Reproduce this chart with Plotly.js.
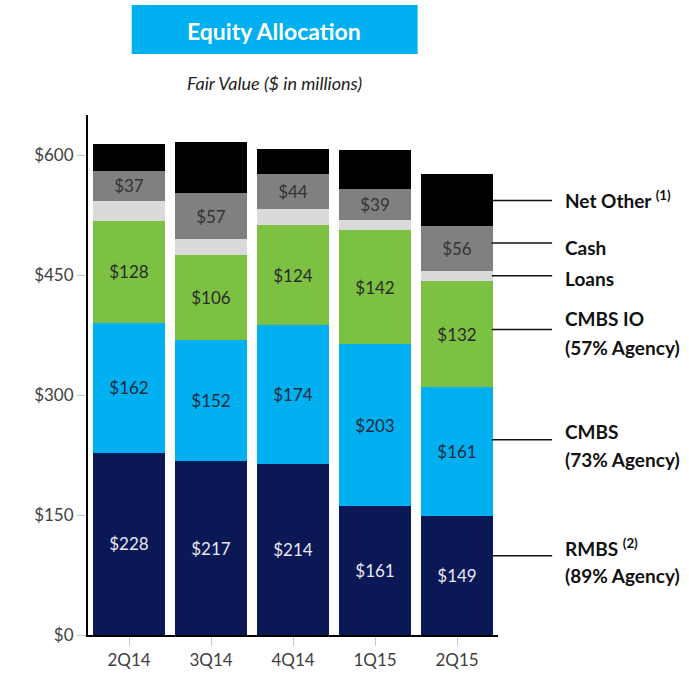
<!DOCTYPE html>
<html>
<head>
<meta charset="utf-8">
<script src="https://cdn.plot.ly/plotly-3.0.1.min.js"></script>
<style>html,body{margin:0;padding:0;background:#fff;}#chart{width:689px;height:685px;}</style>
</head>
<body>
<div id="chart"></div>
<script>
const categories = ['2Q14', '3Q14', '4Q14', '1Q15', '2Q15'];
const rmbs = [228, 217, 214, 161, 149];
const cmbs = [162, 152, 174, 203, 161];
const cmbsIO = [128, 106, 124, 142, 132];
const loans = [25, 20, 20, 13, 13];
const cash = [37, 57, 44, 39, 56];
const netOther = [34, 64, 32, 48, 65];

const seriesNames = ['RMBS', 'CMBS', 'CMBS IO', 'Loans', 'Cash', 'Net Other'];
const labelLines = [
  ['RMBS <sup>(2)</sup>', '(89% Agency)'],
  ['CMBS', '(73% Agency)'],
  ['CMBS IO', '(57% Agency)'],
  ['Loans'],
  ['Cash'],
  ['Net Other <sup>(1)</sup>']
];
const labelY = [[110, 75], [254, 219], [396, 360], [446], [485], [544]];
const lineY = [99, 244, 382, 449, 490, 543];

const FONT = 'Lato, "Open Sans", sans-serif';
const colors = ['#0a1855', '#00b0f0', '#7dc142', '#dadada', '#808080', '#000000'];
const textColors = ['#e8e8f0', '#1f2a3a', '#2b2b2b', '#333333', '#333333', '#ffffff'];
const showText = [true, true, true, false, true, false];
const data = [rmbs, cmbs, cmbsIO, loans, cash, netOther];

const traces = data.map((vals, i) => ({
  type: 'bar',
  name: seriesNames[i],
  x: categories,
  y: vals,
  text: vals.map(v => '$' + v),
  texttemplate: '%{text}',
  textposition: showText[i] ? 'inside' : 'none',
  insidetextanchor: 'middle',
  textangle: 0,
  constraintext: 'none',
  insidetextfont: {family: FONT, size: 17, color: textColors[i]},
  marker: {color: colors[i], line: {width: 0}},
  hoverinfo: 'x+y+name'
}));

const annotations = [
  {xref: 'paper', yref: 'paper', x: 0.4537, y: 1.162, text: '<b>Equity Allocation</b>', showarrow: false,
   font: {family: FONT, size: 23, color: '#ffffff'}, xanchor: 'center', yanchor: 'middle'},
  {xref: 'paper', yref: 'paper', x: 0.4537, y: 1.0615, text: '<i>Fair Value ($ in millions)</i>', showarrow: false,
   font: {family: FONT, size: 18, color: '#222222'}, xanchor: 'center', yanchor: 'middle'}
];
const shapes = [
  {type: 'rect', xref: 'paper', yref: 'paper', x0: 0.1066, x1: 0.804, y0: 1.1173, y1: 1.2115,
   fillcolor: '#00b0f0', line: {width: 0}, layer: 'below'}
];
labelLines.forEach((lines, i) => {
  lines.forEach((ln, j) => {
    annotations.push({xref: 'paper', yref: 'y', x: 1.158, y: labelY[i][j], text: '<b>' + ln + '</b>',
      showarrow: false, xanchor: 'left', yanchor: 'middle', align: 'left',
      font: {family: FONT, size: 19, color: '#111111'}});
  });
  shapes.push({type: 'line', xref: 'paper', yref: 'y', x0: 0.985, x1: 1.132, y0: lineY[i], y1: lineY[i],
    line: {color: '#111111', width: 1.5}});
});

const layout = {
  width: 689, height: 685,
  margin: {l: 88, r: 191, t: 115, b: 50},
  paper_bgcolor: '#ffffff', plot_bgcolor: '#ffffff',
  barmode: 'stack',
  bargap: 0.122,
  showlegend: false,
  font: {family: FONT, color: '#404040'},
  xaxis: {
    type: 'category', range: [-0.5, 4.5],
    showline: true, linecolor: '#000000', linewidth: 2,
    ticks: 'outside', ticklen: 9, tickcolor: '#c8c8c8', tickwidth: 1,
    tickfont: {family: FONT, size: 17, color: '#404040'},
    showgrid: false, zeroline: false, fixedrange: true
  },
  yaxis: {
    range: [0, 650], dtick: 150, tick0: 0, tickprefix: '$',
    showline: true, linecolor: '#000000', linewidth: 2,
    ticks: 'outside', ticklen: 9, tickcolor: '#c8c8c8', tickwidth: 1,
    tickfont: {family: FONT, size: 17, color: '#404040'},
    showgrid: false, zeroline: false, fixedrange: true
  },
  annotations: annotations,
  shapes: shapes
};

Plotly.newPlot('chart', traces, layout, {displayModeBar: false, staticPlot: true});
</script>
</body>
</html>
